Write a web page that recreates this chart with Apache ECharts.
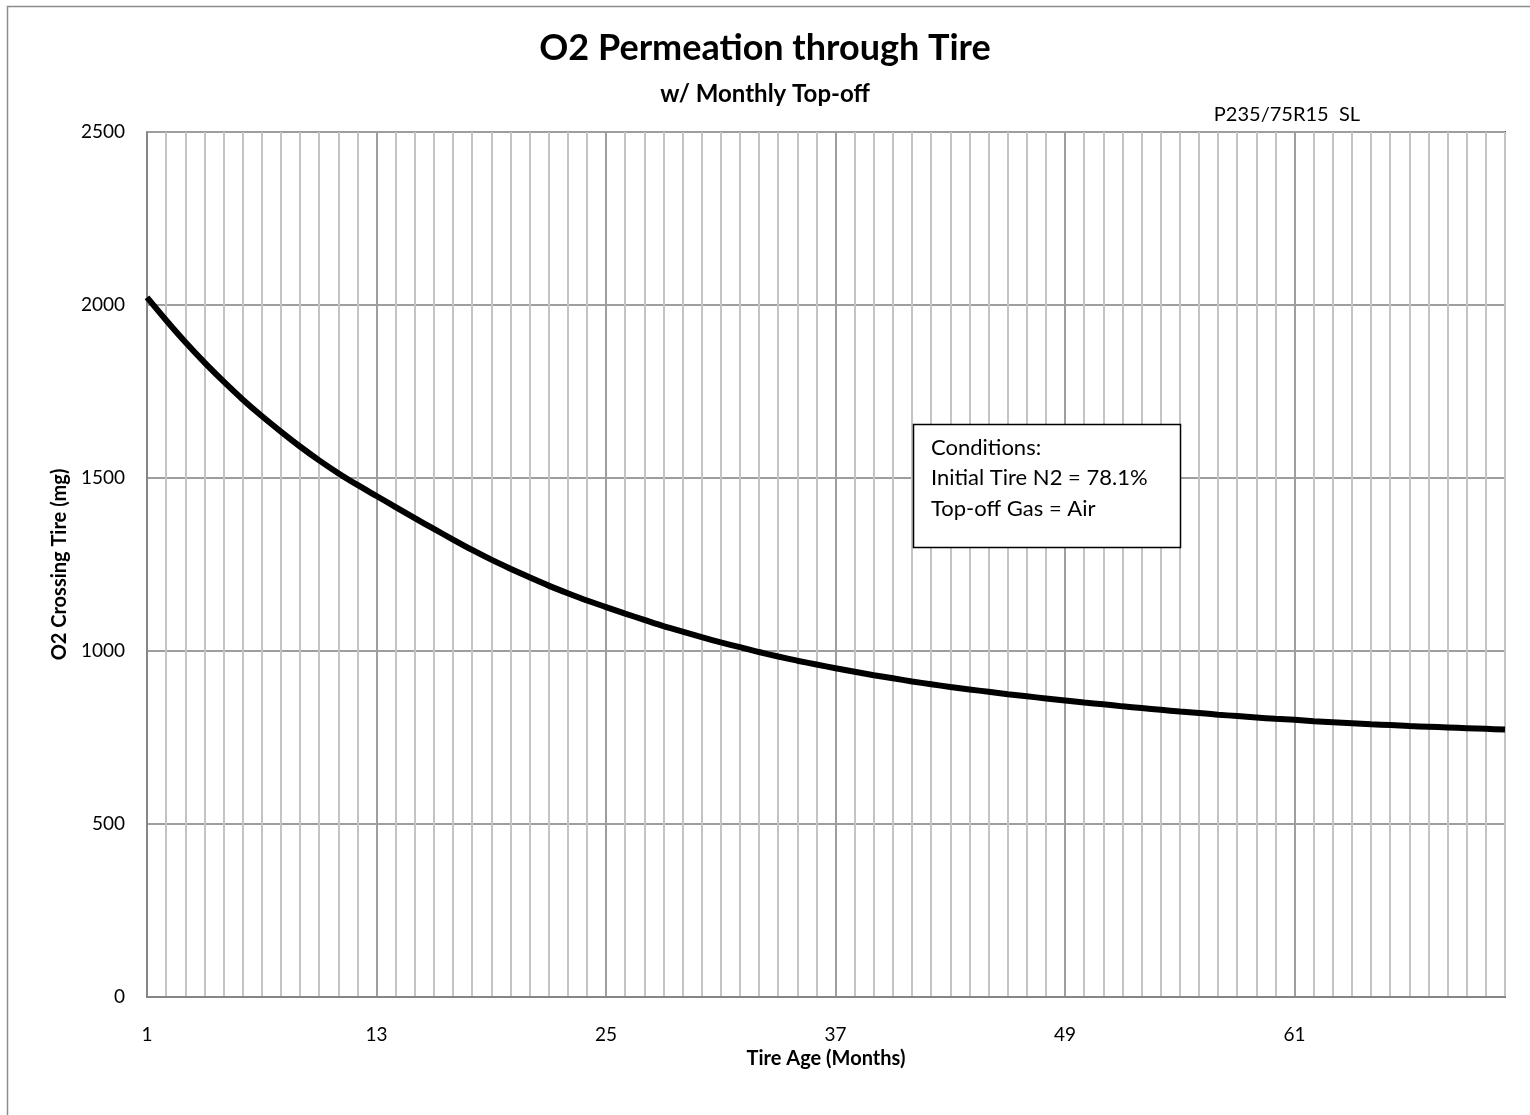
<!DOCTYPE html>
<html>
<head>
<meta charset="utf-8">
<script src="https://cdn.jsdelivr.net/npm/echarts@6/dist/echarts.min.js"></script>
<style>html,body{margin:0;padding:0;background:#fff;}#c{width:1530px;height:1115px;}</style>
</head>
<body>
<div id="c"></div>
<script>
var months = [];
for (var m = 1; m <= 72; m++) months.push(String(m));
var o2Crossing = [
  2022, 1956, 1893, 1834, 1779, 1727, 1679, 1634, 1591, 1551, 1514, 1480,
  1448, 1416, 1384, 1353, 1322, 1292, 1264, 1238, 1213, 1189, 1167, 1146,
  1127, 1108, 1090, 1072, 1056, 1040, 1025, 1011, 997, 984, 972, 961,
  950, 940, 930, 921, 912, 904, 896, 889, 882, 875, 869, 863,
  857, 851, 846, 840, 835, 830, 825, 821, 816, 812, 808, 804,
  801, 797, 794, 791, 788, 786, 783, 781, 779, 777, 775, 773
];
var titleText = 'O2 Permeation through Tire';
var subtitleText = 'w/ Monthly Top-off';
var tireText = 'P235/75R15  SL';
var conditionLines = ['Conditions:', 'Initial Tire N2 = 78.1%', 'Top-off Gas = Air'];
var yTicks = { min: 0, max: 2500, interval: 500 };

var FONT = 'Lato, "Noto Sans", sans-serif';
var gridColors = [];
for (var i = 0; i < 12; i++) gridColors.push(i === 0 ? '#9e9e9e' : '#c4c4c4');

var chart = echarts.init(document.getElementById('c'), null, { renderer: 'canvas' });
chart.setOption({
  backgroundColor: '#ffffff',
  animation: false,
  grid: { left: 147, top: 132, right: 25, bottom: 118 },
  xAxis: [{
    type: 'category',
    data: months,
    boundaryGap: false,
    position: 'bottom',
    axisLine: { lineStyle: { color: '#868686', width: 2 } },
    axisTick: { show: false },
    axisLabel: { interval: 11, color: '#000', fontFamily: FONT, fontSize: 19, margin: 28 },
    splitLine: { show: true, interval: 0, lineStyle: { color: gridColors, width: 2 } },
    name: 'Tire Age (Months)',
    nameLocation: 'middle',
    nameGap: 40,
    nameTextStyle: { color: '#000', fontFamily: FONT, fontSize: 20, fontWeight: 'bold' },
    z: 3
  }, {
    type: 'category',
    data: months,
    boundaryGap: false,
    position: 'top',
    axisLine: { lineStyle: { color: '#000', width: 2 } },
    axisTick: { show: false },
    axisLabel: { show: false },
    splitLine: { show: false }
  }],
  yAxis: [{
    type: 'value',
    min: yTicks.min, max: yTicks.max, interval: yTicks.interval,
    position: 'left',
    axisLine: { show: true, lineStyle: { color: '#868686', width: 2 } },
    axisTick: { show: false },
    axisLabel: { color: '#000', fontFamily: FONT, fontSize: 19, margin: 22,
      formatter: function (v) { return String(v); } },
    splitLine: { show: true, lineStyle: { color: '#9e9e9e', width: 2 } },
    name: 'O2 Crossing Tire (mg)',
    nameLocation: 'middle',
    nameGap: 74,
    nameTextStyle: { color: '#000', fontFamily: FONT, fontSize: 20, fontWeight: 'bold' },
    z: 3
  }, {
    type: 'value',
    min: yTicks.min, max: yTicks.max, interval: yTicks.interval,
    position: 'right',
    axisLine: { show: true, lineStyle: { color: '#000', width: 2 } },
    axisTick: { show: false },
    axisLabel: { show: false },
    splitLine: { show: false }
  }],
  series: [{
    type: 'line',
    data: o2Crossing,
    smooth: 0.3,
    showSymbol: false,
    symbol: 'none',
    lineStyle: { color: '#000', width: 6 },
    z: 5
  }],
  graphic: [
    { type: 'rect', shape: { x: 7.5, y: 6.5, width: 1540, height: 1130 },
      style: { fill: null, stroke: '#8c8c8c', lineWidth: 1.5 }, silent: true },
    { type: 'text', x: 765, y: 48,
      style: { text: titleText, fill: '#000', font: 'bold 36px ' + FONT, textAlign: 'center', textVerticalAlign: 'middle' } },
    { type: 'text', x: 765, y: 94,
      style: { text: subtitleText, fill: '#000', font: 'bold 24px ' + FONT, textAlign: 'center', textVerticalAlign: 'middle' } },
    { type: 'text', x: 1360, y: 115,
      style: { text: tireText, fill: '#000', font: '20px ' + FONT, textAlign: 'right', textVerticalAlign: 'middle' } },
    { type: 'rect', shape: { x: 913.5, y: 424.5, width: 267, height: 123 },
      style: { fill: '#fff', stroke: '#000', lineWidth: 1.5 }, z: 10 },
    { type: 'text', x: 931, y: 448, z: 11,
      style: { text: conditionLines[0], fill: '#000', font: '22px ' + FONT, textAlign: 'left', textVerticalAlign: 'middle' } },
    { type: 'text', x: 931, y: 478, z: 11,
      style: { text: conditionLines[1], fill: '#000', font: '22px ' + FONT, textAlign: 'left', textVerticalAlign: 'middle' } },
    { type: 'text', x: 931, y: 509, z: 11,
      style: { text: conditionLines[2], fill: '#000', font: '22px ' + FONT, textAlign: 'left', textVerticalAlign: 'middle' } }
  ]
});
</script>
</body>
</html>
